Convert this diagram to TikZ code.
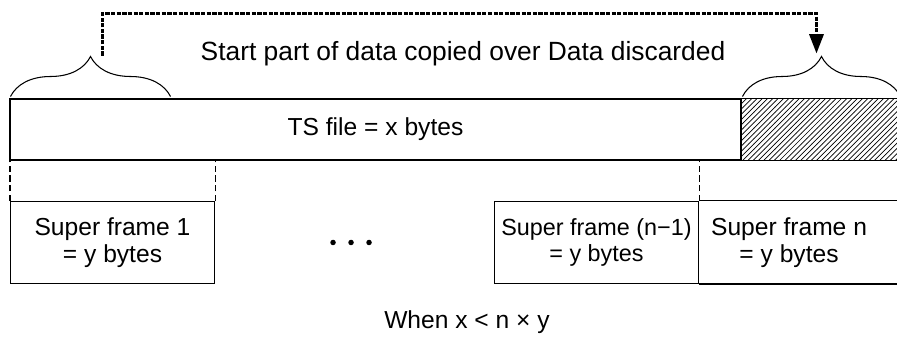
\documentclass[tikz,border=0pt]{standalone}
\usepackage{fontspec}
\setmainfont{Liberation Sans}
\usepackage{tikz}
\usetikzlibrary{calc,patterns,arrows.meta}
\usetikzlibrary{decorations.pathreplacing}
\tikzstyle{frames}=[
  font=\fontsize{14}{15}\selectfont, line width=0.6pt
]
\tikzstyle{filebox}=[
  draw, line width=1.7pt, minimum width=14.62cm, minimum height=1.22cm, inner sep=0pt
]
\tikzstyle{discardbox}=[
  pattern=north east lines, minimum width=3.2cm, minimum height=1.22cm, inner sep=0pt
]
\tikzstyle{sfbox}=[
  draw, minimum width=4.08cm, minimum height=1.64cm, align=center, inner sep=0pt
]
\tikzstyle{sfguide}=[
  dash pattern=on 3.5pt off 2pt
]
\tikzstyle{bracket}=[
  decorate, decoration={brace, amplitude=0.8cm}
]
\tikzstyle{copyline}=[
  line width=1.7pt, dash pattern=on 2.4pt off 0.8pt,
  -{Triangle[width=8pt,length=11pt]}
]

\begin{document}
\begin{tikzpicture}[frames]
    \useasboundingbox (0,0) rectangle (17.94,6.78);

    \node (discard) [discardbox] at (16.42,4.19) {};
    \draw (discard.north west) -- (discard.north east);
    \draw (discard.south west) -- (discard.south east);
    \node (tsfile) [filebox] at (7.51,4.19) {TS file = x bytes};

    \node (sf1) [sfbox] at ($(tsfile.south west) + (2.08, -1.62)$) {
        Super frame 1\\= y bytes
    };
    \node (sfnm1) [sfbox, font=\fontsize{13.3}{15}\selectfont] at ($(tsfile.south west) + (11.76, -1.62)$) {
        Super frame (n−1)\\= y bytes
    };
    \node (sfn) [align=center] at ($(sfnm1.east) + (1.8, 0)$) {
        Super frame n\\= y bytes
    };
    \draw (sfnm1.north east) -- ++(4.5,0);
    \draw (sfnm1.south east) -- ++(4.5,0);

    \draw [sfguide] (sf1.north west) -- (sf1.north west |- tsfile.south);
    \draw [sfguide] (sf1.north east) -- (sf1.north east |- tsfile.south);
    \draw [sfguide] (sfnm1.north east) -- (sfnm1.north east |- tsfile.south);

    \coordinate (dots) at ($(sf1.east) + (2.36, 0)$);
    \foreach \i in {0,1,2}
        \fill ($(dots) + (\i*0.36, 0)$) circle (0.055);

    % braces over the kept and the dropped part
    \draw [bracket] ($(tsfile.north west) + (0.04, 0.02)$) -- ($(tsfile.north west) + (3.24, 0.02)$);
    \draw [bracket] ($(tsfile.north east) + (0, 0.02)$) -- ($(tsfile.north east) + (3.16, 0.02)$);

    \coordinate (copyfrom) at ($(tsfile.north west) + (1.88, 0.84)$);
    \coordinate (copyto) at ($(tsfile.north east) + (1.48, 0.88)$);
    \draw [copyline] (copyfrom) |- ($(copyto) + (0, 0.8)$) -- (copyto);
    \node (copylabel) [font=\fontsize{15}{16}\selectfont] at (9.26,5.7) {Start part of data copied over Data discarded};

    \node (cond) at (9.34,0.34) {When x < n × y};
\end{tikzpicture}
\end{document}
